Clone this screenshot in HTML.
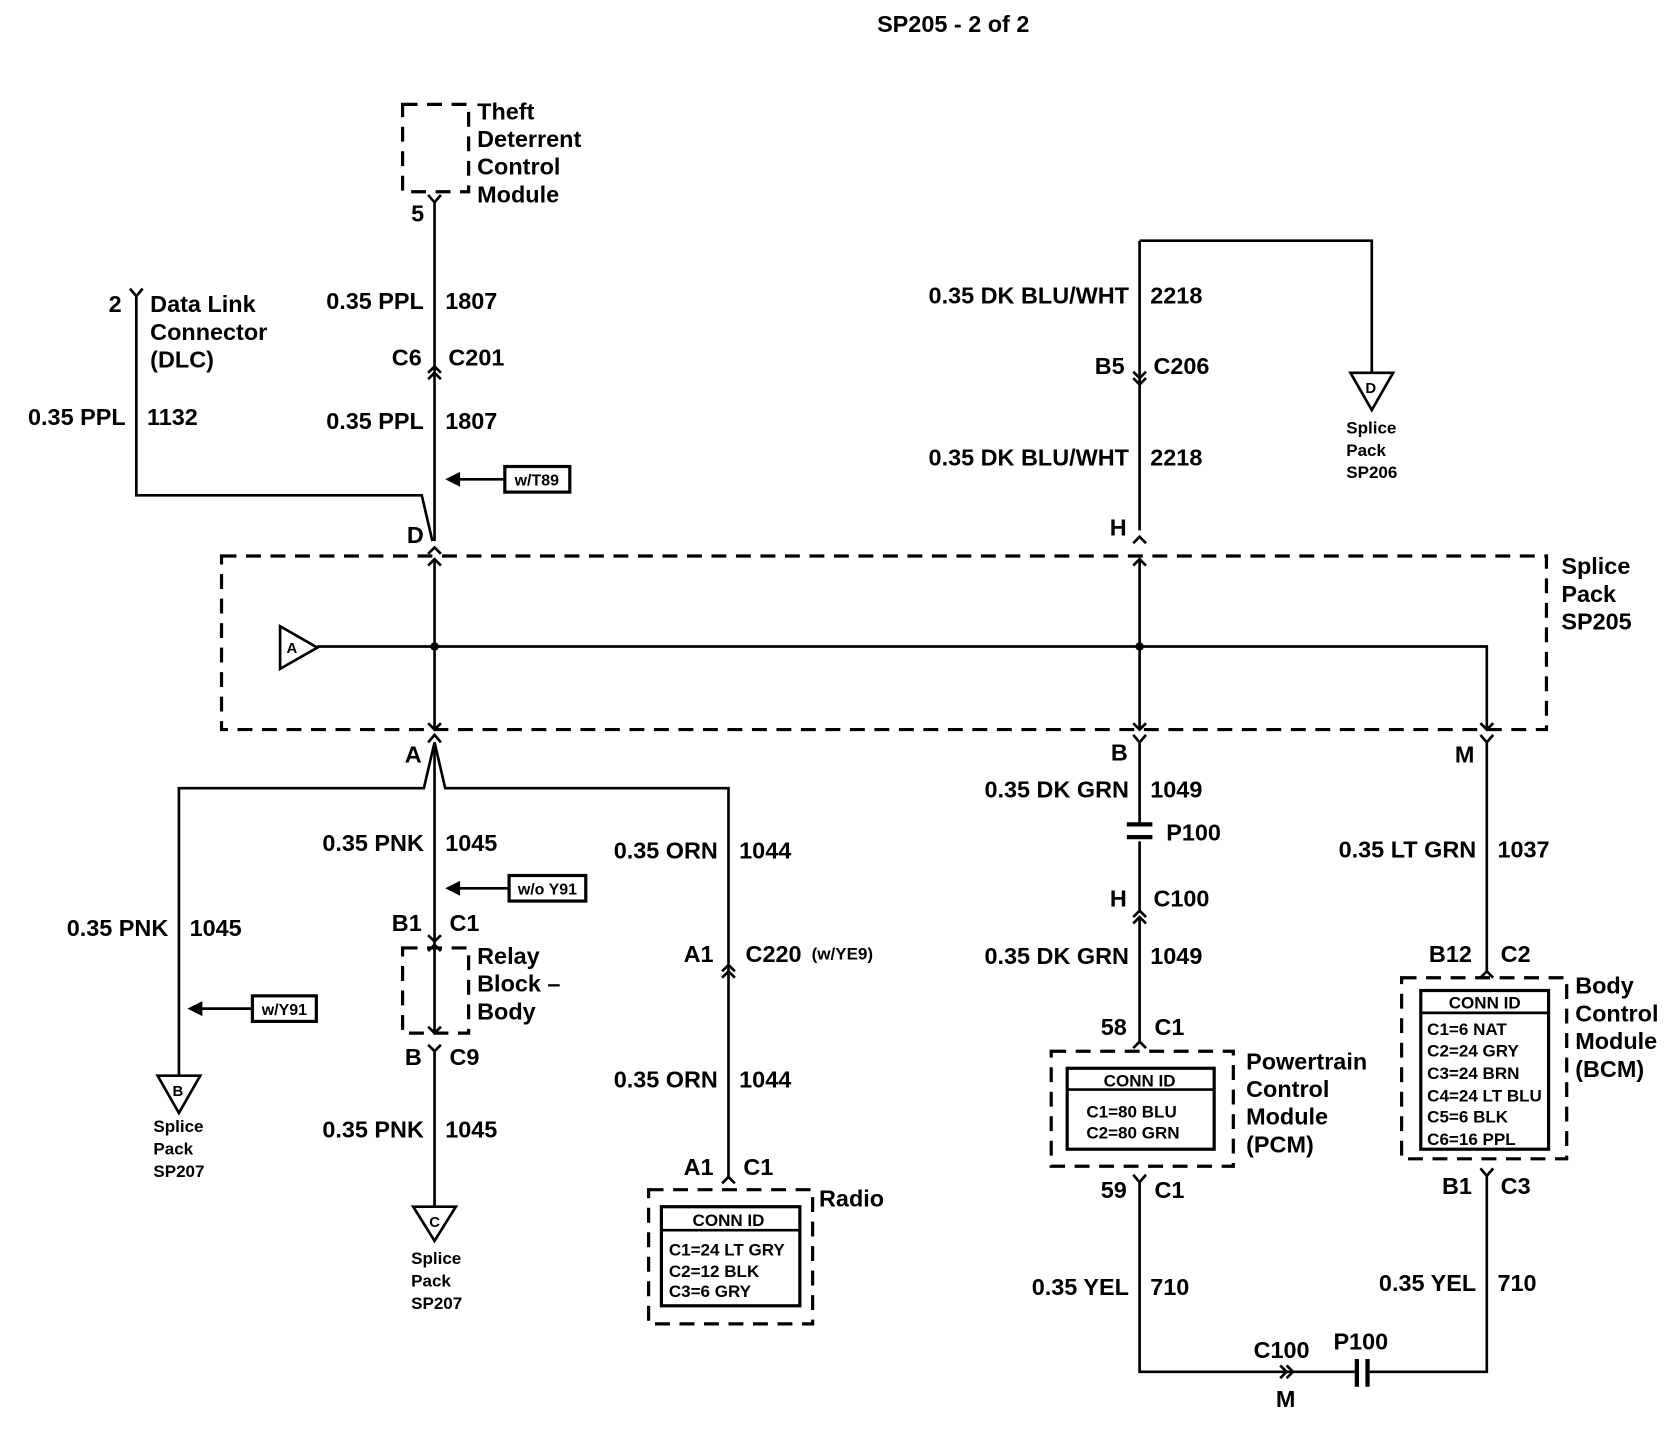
<!DOCTYPE html>
<html><head><meta charset="utf-8"><style>
html,body{margin:0;padding:0;background:#fff;}
svg{display:block;}
text{font-family:"Liberation Sans",Arial,sans-serif;font-weight:bold;font-size:22px;fill:#000;}
.s{font-size:16px;}
.r{text-anchor:end;}
.m{text-anchor:middle;}
</style></head><body>
<svg width="1670" height="1440" viewBox="0 0 1568 1352" xmlns="http://www.w3.org/2000/svg">
<g fill="none" stroke="#000" stroke-width="2.5">
<!-- dashed boxes -->
<g stroke-dasharray="14,9" stroke-width="3">
<rect x="378" y="98" width="62" height="82"/>
<rect x="208" y="522" width="1244" height="163"/>
<rect x="378" y="890" width="62" height="80"/>
<rect x="609" y="1117" width="154" height="126"/>
<rect x="987" y="987" width="171" height="108"/>
<rect x="1316" y="918" width="155" height="170"/>
</g>
<!-- solid inner boxes -->
<rect x="621" y="1133" width="130" height="93" stroke-width="3"/>
<line x1="621" y1="1155" x2="751" y2="1155"/>
<rect x="1002" y="1003" width="138" height="76" stroke-width="3"/>
<line x1="1002" y1="1023" x2="1140" y2="1023"/>
<rect x="1334" y="930" width="120" height="149" stroke-width="3"/>
<line x1="1334" y1="951" x2="1454" y2="951"/>
<!-- labels boxes -->
<rect x="474" y="438" width="61" height="24" stroke-width="3"/>
<rect x="478" y="822" width="72" height="24" stroke-width="3"/>
<rect x="237" y="935" width="60" height="24" stroke-width="3"/>

<!-- wires -->
<path d="M408 190 V508"/>
<path d="M402 183 L408 190 L414 183"/>
<path d="M402 356 L408 350 L414 356 M402 350 L408 344 L414 350"/>
<path d="M128 278 V465 H396 L406 508"/>
<path d="M122 271 L128 278 L134 271"/>
<path d="M402 520 L408 514 L414 520"/>
<path d="M408 525 V685"/>
<path d="M402 531 L408 525 L414 531 M402 679 L408 685 L414 679"/>
<path d="M1070 226 H1288 V350 M1070 226 V498"/>
<path d="M1064 355 L1070 361 L1076 355 M1064 349 L1070 355 L1076 349"/>
<path d="M1064 510 L1070 504 L1076 510"/>
<path d="M1070 525 V685"/>
<path d="M1064 531 L1070 525 L1076 531 M1064 679 L1070 685 L1076 679"/>
<path d="M298 607 H1396 V685"/>
<path d="M1390 679 L1396 685 L1402 679"/>
<!-- below -->
<path d="M402 697 L408 690 L414 697"/>
<path d="M408 697 L398 740 H168 V1010"/>
<path d="M408 697 L418 740 H684 V1105"/>
<path d="M408 697 V887"/>
<path d="M402 893 L408 887 L414 893 M402 964 L408 970 L414 964 M408 887 V970"/>
<path d="M402 878 L408 884 L414 878"/>
<path d="M402 981 L408 987 L414 981 M408 987 V1133"/>
<path d="M678 912 L684 906 L690 912 M678 918 L684 912 L690 918"/>
<path d="M678 1111 L684 1105 L690 1111"/>
<path d="M1064 690 L1070 697 L1076 690 M1070 697 V773 M1070 790 V857"/>
<path d="M1058 774 H1082 M1058 786 H1082" stroke-width="4"/>
<path d="M1064 861 L1070 855 L1076 861 M1064 867 L1070 861 L1076 867 M1070 861 V978"/>
<path d="M1064 984 L1070 978 L1076 984"/>
<path d="M1064 1103 L1070 1110 L1076 1103 M1070 1110 V1288 H1272 M1286 1288 H1396 V1104"/>
<path d="M1390 1097 L1396 1104 L1402 1097"/>
<path d="M1390 690 L1396 697 L1402 690 M1396 697 V912"/>
<path d="M1390 918 L1396 912 L1402 918"/>
<path d="M1202 1282 L1208 1288 L1202 1294 M1208 1282 L1214 1288 L1208 1294"/>
<path d="M1274 1276 V1302 M1284 1276 V1302" stroke-width="4"/>
<!-- triangles -->
<path d="M263 588 L263 628 L298 608 Z"/>
<path d="M1268 350 L1308 350 L1288 385 Z"/>
<path d="M148 1010 L188 1010 L168 1045 Z"/>
<path d="M388 1133 L428 1133 L408 1165 Z"/>
<!-- arrows -->
<path d="M474 450 H430 M478 834 H430 M237 947 H188"/>
</g>
<g fill="#000">
<circle cx="408" cy="607" r="4"/><circle cx="1070" cy="607" r="4"/>
<path d="M418 450 L432 443 L432 457 Z"/>
<path d="M418 834 L432 827 L432 841 Z"/>
<path d="M176 947 L190 940 L190 954 Z"/>
</g>

<text class="m" x="895" y="30">SP205 - 2 of 2</text>
<text x="448" y="112">Theft</text><text x="448" y="138">Deterrent</text><text x="448" y="164">Control</text><text x="448" y="190">Module</text>
<text x="386" y="208">5</text>
<text x="102" y="293">2</text>
<text x="141" y="293">Data Link</text><text x="141" y="319">Connector</text><text x="141" y="345">(DLC)</text>
<text class="r" x="398" y="290">0.35 PPL</text><text x="418" y="290">1807</text>
<text class="r" x="396" y="343">C6</text><text x="421" y="343">C201</text>
<text class="r" x="398" y="403">0.35 PPL</text><text x="418" y="403">1807</text>
<text class="r" x="118" y="399">0.35 PPL</text><text x="138" y="399">1132</text>
<text class="s" x="504" y="456" style="text-anchor:middle;font-size:15px">w/T89</text>
<text x="382" y="510">D</text>
<text x="1466" y="539">Splice</text><text x="1466" y="565">Pack</text><text x="1466" y="591">SP205</text>
<text class="s" x="269" y="613" style="font-size:14px">A</text>
<text class="r" x="1060" y="285">0.35 DK BLU/WHT</text><text x="1080" y="285">2218</text>
<text class="r" x="1056" y="351">B5</text><text x="1083" y="351">C206</text>
<text class="r" x="1060" y="437">0.35 DK BLU/WHT</text><text x="1080" y="437">2218</text>
<text x="1042" y="503">H</text>
<text class="s" x="1282" y="369" style="font-size:14px">D</text>
<text class="s" x="1264" y="407">Splice</text><text class="s" x="1264" y="428">Pack</text><text class="s" x="1264" y="449">SP206</text>
<text x="380" y="716">A</text>
<text class="r" x="398" y="799">0.35 PNK</text><text x="418" y="799">1045</text>
<text class="s" x="514" y="840" style="text-anchor:middle;font-size:15px">w/o Y91</text>
<text class="r" x="396" y="874">B1</text><text x="422" y="874">C1</text>
<text x="448" y="905">Relay</text><text x="448" y="931">Block –</text><text x="448" y="957">Body</text>
<text class="r" x="396" y="1000">B</text><text x="422" y="1000">C9</text>
<text class="r" x="398" y="1068">0.35 PNK</text><text x="418" y="1068">1045</text>
<text class="s" x="403" y="1152" style="font-size:14px">C</text>
<text class="s" x="386" y="1187">Splice</text><text class="s" x="386" y="1208">Pack</text><text class="s" x="386" y="1229">SP207</text>
<text class="r" x="158" y="879">0.35 PNK</text><text x="178" y="879">1045</text>
<text class="s" x="267" y="953" style="text-anchor:middle;font-size:15px">w/Y91</text>
<text class="s" x="162" y="1029" style="font-size:14px">B</text>
<text class="s" x="144" y="1063">Splice</text><text class="s" x="144" y="1084">Pack</text><text class="s" x="144" y="1105">SP207</text>
<text class="r" x="674" y="806">0.35 ORN</text><text x="694" y="806">1044</text>
<text class="r" x="670" y="903">A1</text><text x="700" y="903">C220</text><text class="s" x="762" y="901">(w/YE9)</text>
<text class="r" x="674" y="1021">0.35 ORN</text><text x="694" y="1021">1044</text>
<text class="r" x="670" y="1103">A1</text><text x="698" y="1103">C1</text>
<text x="769" y="1133">Radio</text>
<text class="s m" x="684" y="1151">CONN ID</text>
<text class="s" x="628" y="1179">C1=24 LT GRY</text><text class="s" x="628" y="1199">C2=12 BLK</text><text class="s" x="628" y="1218">C3=6 GRY</text>
<text x="1043" y="714">B</text>
<text class="r" x="1060" y="749">0.35 DK GRN</text><text x="1080" y="749">1049</text>
<text x="1095" y="789">P100</text>
<text class="r" x="1058" y="851">H</text><text x="1083" y="851">C100</text>
<text class="r" x="1060" y="905">0.35 DK GRN</text><text x="1080" y="905">1049</text>
<text class="r" x="1058" y="972">58</text><text x="1084" y="972">C1</text>
<text class="s m" x="1070" y="1020">CONN ID</text>
<text class="s" x="1020" y="1049">C1=80 BLU</text><text class="s" x="1020" y="1069">C2=80 GRN</text>
<text x="1170" y="1004">Powertrain</text><text x="1170" y="1030">Control</text><text x="1170" y="1056">Module</text><text x="1170" y="1082">(PCM)</text>
<text class="r" x="1058" y="1125">59</text><text x="1084" y="1125">C1</text>
<text class="r" x="1060" y="1216">0.35 YEL</text><text x="1080" y="1216">710</text>
<text x="1177" y="1275">C100</text><text x="1198" y="1321">M</text>
<text x="1252" y="1267">P100</text>
<text x="1366" y="716">M</text>
<text class="r" x="1386" y="805">0.35 LT GRN</text><text x="1406" y="805">1037</text>
<text class="r" x="1382" y="903">B12</text><text x="1409" y="903">C2</text>
<text class="s m" x="1394" y="947">CONN ID</text>
<text class="s" x="1340" y="972">C1=6 NAT</text><text class="s" x="1340" y="992">C2=24 GRY</text><text class="s" x="1340" y="1013">C3=24 BRN</text><text class="s" x="1340" y="1034">C4=24 LT BLU</text><text class="s" x="1340" y="1054">C5=6 BLK</text><text class="s" x="1340" y="1075">C6=16 PPL</text>
<text x="1479" y="933">Body</text><text x="1479" y="959">Control</text><text x="1479" y="985">Module</text><text x="1479" y="1011">(BCM)</text>
<text class="r" x="1382" y="1121">B1</text><text x="1409" y="1121">C3</text>
<text class="r" x="1386" y="1212">0.35 YEL</text><text x="1406" y="1212">710</text>
</svg>
</body></html>
